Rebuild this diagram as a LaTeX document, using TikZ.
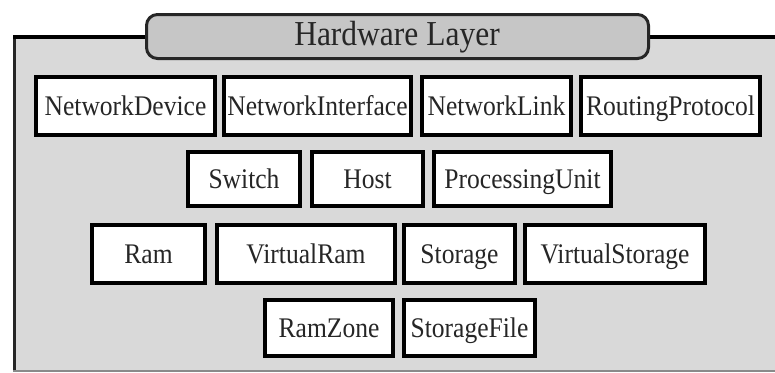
\documentclass[tikz,border=0pt]{standalone}
\usepackage{fontspec}
\setmainfont{Liberation Serif}[FakeStretch=0.9]
\definecolor{panelfill}{HTML}{D9D9D9}
\definecolor{tabfill}{HTML}{C6C6C6}
\definecolor{inktext}{HTML}{262626}
\definecolor{edgegray}{HTML}{8A8A8A}
\tikzset{
  cls/.style={draw=black, line width=4pt, fill=white, text=inktext,
    inner sep=0pt, text height=18.8pt, text depth=0pt,
    font=\fontsize{28.4}{30}\selectfont},
  tabbox/.style={draw=black!85, line width=3pt, fill=tabfill,
    rounded corners=11pt},
}
\begin{document}
\begin{tikzpicture}[x=1pt, y=-1pt]
\useasboundingbox (0,0) rectangle (775,372);
% layer panel
\fill[panelfill] (13,37) rectangle (775,372);
\draw[edgegray, line width=2pt] (13,370.5) -- (775,370.5);
\draw[black!85, line width=3pt] (14.5,370) -- (14.5,37);
\draw[black, line width=3.5pt] (13,37) -- (775,37);
% title tab
\draw[tabbox] (146.5,14.5) rectangle (648.5,58.5);
\node[text=inktext, font=\fontsize{35}{38}\selectfont, inner sep=0pt,
  text height=23.2pt, text depth=0pt] (title) at (397,34) {Hardware Layer};
% row 1
\node[cls, minimum width=179pt, minimum height=58pt] (nd) at (125.5,106) {NetworkDevice};
\node[cls, minimum width=187pt, minimum height=58pt] (ni) at (317.5,106) {NetworkInterface};
\node[cls, minimum width=149pt, minimum height=58pt] (nl) at (496.5,106) {NetworkLink};
\node[cls, minimum width=179pt, minimum height=58pt] (rp) at (670.5,106) {RoutingProtocol};
% row 2
\node[cls, minimum width=112pt, minimum height=54pt] (sw) at (244,179) {Switch};
\node[cls, minimum width=111pt, minimum height=54pt] (host) at (367.5,179) {Host};
\node[cls, minimum width=177pt, minimum height=54pt] (pu) at (522.5,179) {ProcessingUnit};
% row 3
\node[cls, minimum width=113pt, minimum height=58pt] (ram) at (148.5,254) {Ram};
\node[cls, minimum width=178pt, minimum height=58pt] (vram) at (306,254) {VirtualRam};
\node[cls, minimum width=111pt, minimum height=58pt] (sto) at (459.5,254) {Storage};
\node[cls, minimum width=180pt, minimum height=58pt] (vsto) at (615,254) {VirtualStorage};
% row 4
\node[cls, minimum width=128pt, minimum height=56pt] (rz) at (329,328) {RamZone};
\node[cls, minimum width=131pt, minimum height=56pt] (sf) at (469.5,328) {StorageFile};
\end{tikzpicture}
\end{document}
